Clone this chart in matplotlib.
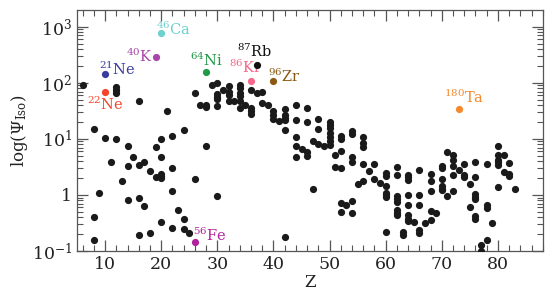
import math
import matplotlib
matplotlib.use('Agg')
import matplotlib.pyplot as plt
from matplotlib.ticker import MultipleLocator, LogLocator, FuncFormatter, NullFormatter

# black points: atomic number and Psi_iso
z_vals = [6, 8, 8, 8, 9, 10, 11, 12, 12, 12, 12, 13, 14, 14, 14, 15,
          16, 16, 16, 16, 17, 17, 18, 18, 19, 19, 20, 20, 20, 20, 20, 20,
          21, 22, 22, 22, 22, 23, 24, 24, 24, 25, 26, 26, 27, 28, 28, 28,
          29, 30, 30, 30, 30, 30, 30, 31, 32, 32, 32, 32, 33,
          34, 34, 34, 34, 34, 34, 35, 36, 36, 36, 36, 37, 38, 38, 39,
          40, 40, 40, 41, 42, 42, 42, 42, 42, 42,
          44, 44, 44, 44, 44, 45, 46, 46, 46, 46, 47, 47, 48, 48, 48, 49,
          50, 50, 50, 50, 50, 50, 50, 51, 51, 52, 52, 52, 52, 52, 52, 53,
          54, 54, 54, 54, 54, 54, 55, 56, 56, 56, 56, 56, 57, 58, 58, 59,
          60, 60, 60, 60, 60, 60, 60, 62, 62, 62, 62, 62, 62, 62, 62,
          63, 63, 64, 64, 64, 64, 64, 64, 64, 64, 65, 66, 66, 66, 66, 66,
          67, 68, 68, 68, 68, 68, 69, 70, 70, 70, 70, 70, 70, 71, 71,
          72, 72, 72, 72, 72, 73, 74, 74, 74, 75, 75,
          76, 76, 76, 76, 76, 76, 76, 77, 77, 78, 78, 78, 78, 79,
          80, 80, 80, 80, 80, 80, 81, 81, 82, 82, 82, 83]
psi_vals = [92, 14.8, 0.40, 0.16, 1.1, 10.5, 3.9, 85, 75, 67, 9.8, 1.8, 7.5, 3.3, 0.81, 4.8,
            48, 3.4, 0.89, 0.19, 3.8, 0.64, 2.7, 0.21, 7.1, 2.1, 10, 4.8, 2.4, 2.2, 2.0, 0.33,
            32, 11.3, 3.0, 1.17, 0.26, 0.54, 14.5, 0.37, 0.25, 0.21, 66, 1.9, 41, 40, 37, 7.6,
            92, 98, 63, 57, 52, 38, 0.97, 74, 87, 68, 60, 47, 47,
            91, 80, 66, 58, 47, 35, 41, 75, 35, 31, 28, 66, 69, 43, 41,
            31, 27, 23, 21, 34, 27, 24, 22, 14.5, 0.18,
            41, 22, 11, 7.4, 4.7, 6.5, 35, 20, 5.9, 4.9, 9.0, 1.26, 23, 14.8, 8.2, 7.6,
            20, 18, 15.5, 12.6, 11, 9.2, 7.7, 5.1, 3.2, 11.4, 10, 6.0, 3.0, 0.71, 0.50, 0.65,
            13.7, 12, 4.7, 3.8, 0.79, 0.47, 1.57, 10.6, 8.4, 7.3, 3.5, 1.8, 2.7, 3.5, 1.9, 1.65,
            2.5, 2.2, 1.45, 1.1, 1.0, 0.93, 0.22, 3.1, 2.3, 0.95, 0.84, 0.76, 0.53, 0.47, 0.44,
            0.22, 0.19, 2.3, 2.1, 1.85, 1.0, 0.67, 0.44, 0.38, 0.34, 0.33, 2.8, 1.0, 0.65, 0.24, 0.21,
            0.31, 2.4, 1.8, 1.2, 0.52, 0.36, 0.47, 3.3, 3.0, 1.95, 1.45, 1.3, 1.23, 5.8, 0.97,
            5.2, 4.2, 3.3, 2.3, 1.18, 2.8, 3.5, 2.3, 2.05, 1.57, 0.62,
            3.8, 2.1, 1.04, 0.93, 0.86, 0.42, 0.37, 0.13, 0.10, 3.5, 0.65, 0.58, 0.16, 0.32,
            7.6, 5.1, 4.2, 3.8, 3.4, 1.4, 5.1, 2.6, 3.7, 2.4, 2.2, 1.3]

# highlighted isotopes
iso_names = ['21', '22', '40', '46', '56', '64', '86', '87', '96', '180']
iso_elems = ['Ne', 'Ne', 'K', 'Ca', 'Fe', 'Ni', 'Kr', 'Rb', 'Zr', 'Ta']
iso_z = [10, 10, 19, 20, 26, 28, 36, 37, 40, 73]
iso_psi = [145, 70, 290, 780, 0.147, 155, 110, 210, 110, 34]
iso_colors = ['#3c3c9e', '#f5452b', '#a847a8', '#6fd0d0', '#b0229c',
              '#1f9a48', '#f4698a', '#111111', '#8b5a14', '#f5892c']
# label offsets (points) and alignment
iso_offsets = [(-4.5, -1), (0, -3), (-2, 0.5), (-4, -1.5), (-1, 0.5),
               (0, 2), (-4, 3), (-1.5, 3.5), (-4, -1), (4, 2)]
iso_ha = ['left', 'center', 'right', 'left', 'left',
          'center', 'center', 'center', 'left', 'center']
iso_va = ['baseline', 'top', 'center', 'baseline', 'baseline',
          'bottom', 'bottom', 'bottom', 'baseline', 'bottom']

plt.rcParams['font.family'] = 'DejaVu Serif'
plt.rcParams['mathtext.fontset'] = 'dejavuserif'

fig = plt.figure(figsize=(5.5, 3.01), dpi=100)
ax = fig.add_axes([0.14, 0.166, 0.847, 0.801])

ax.scatter(z_vals, psi_vals, s=27, color='#1a1a1a', linewidths=0, zorder=3)
for name, el, z, p, c, off, ha, va in zip(iso_names, iso_elems, iso_z, iso_psi, iso_colors,
                                          iso_offsets, iso_ha, iso_va):
    ax.scatter([z], [p], s=27, color=c, linewidths=0, zorder=4)
    ax.annotate(r'$^{%s}$%s' % (name, el), (z, p), xytext=off, textcoords='offset points',
                ha=ha, va=va, color=c, fontsize=10.5)

ax.set_yscale('log')
ax.set_xlim(5, 88)
ax.set_ylim(0.1, 10 ** 3.3)

ax.xaxis.set_major_locator(MultipleLocator(10))
ax.xaxis.set_minor_locator(MultipleLocator(2))
ax.yaxis.set_major_locator(LogLocator(base=10, numticks=10))
ax.yaxis.set_minor_locator(LogLocator(base=10, subs=range(2, 10), numticks=10))
ax.yaxis.set_minor_formatter(NullFormatter())


def yfmt(v, pos):
    if abs(v - 1) < 1e-9:
        return '1'
    return r'$10^{%d}$' % int(round(math.log10(v)))


ax.yaxis.set_major_formatter(FuncFormatter(yfmt))

ax.tick_params(which='both', direction='in', top=True, right=True, colors='#555555',
               labelcolor='#222222', labelsize=12.5)
ax.tick_params(which='major', length=8, width=0.9)
ax.tick_params(which='minor', length=4, width=0.8)
for sp in ax.spines.values():
    sp.set_color('#555555')
    sp.set_linewidth(0.9)

ax.set_xlabel('Z', fontsize=12, color='#222222', labelpad=1)
ax.set_ylabel(r'$\log(\Psi_{\rm Iso})$', fontsize=12, color='#222222', labelpad=1)

fig.savefig('out.png', dpi=100)
